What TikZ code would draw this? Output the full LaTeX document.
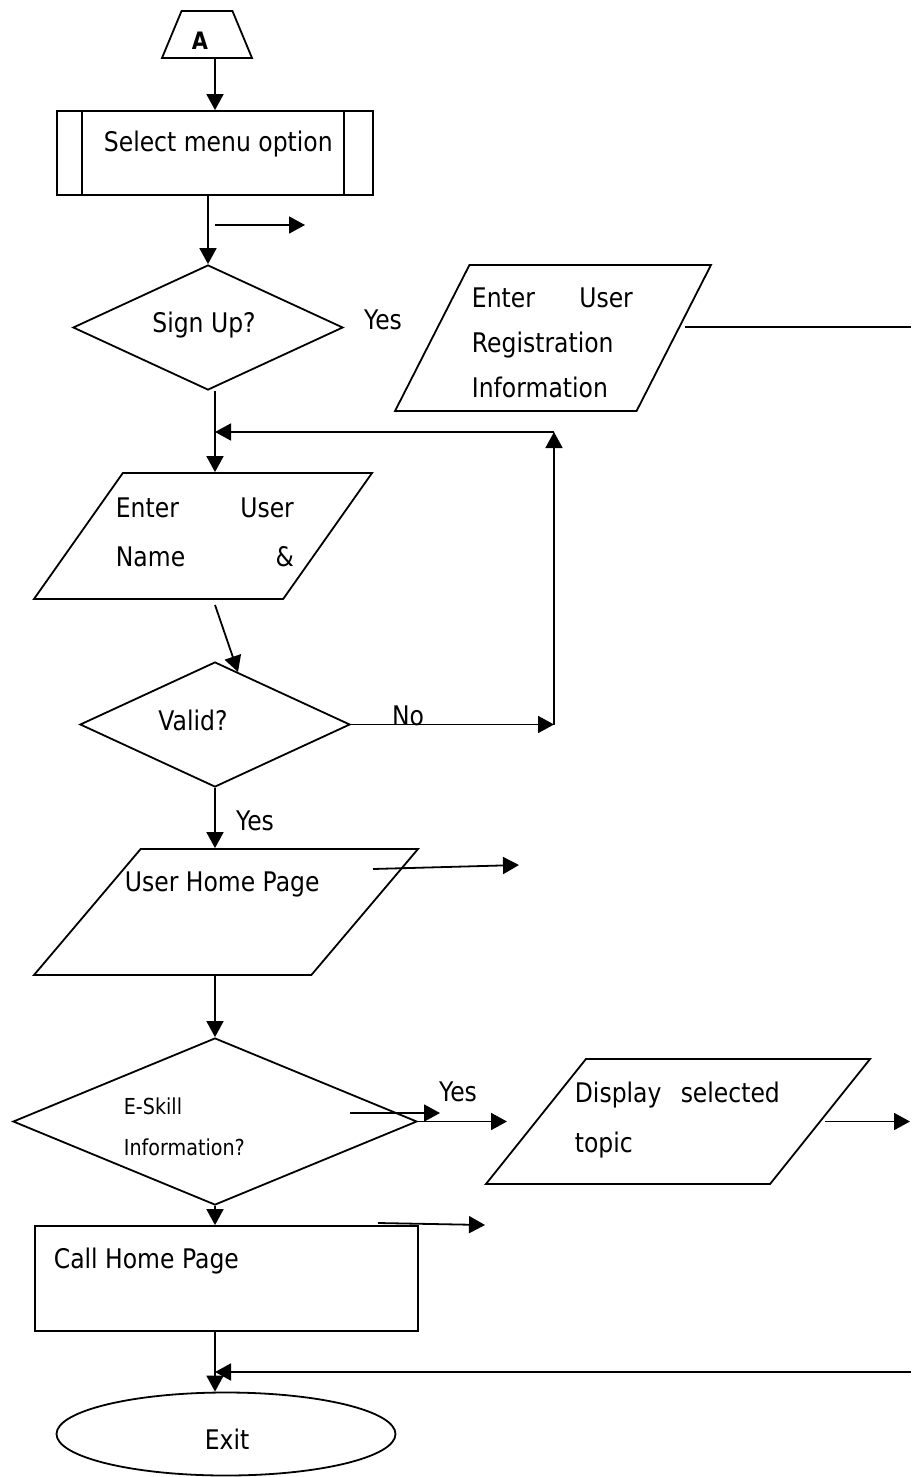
\documentclass[tikz,border=0pt]{standalone}
\usepackage{fontspec}
\setmainfont{DejaVu Sans}[FakeStretch=0.87]
\usetikzlibrary{shapes.geometric,arrows.meta}

\begin{document}
\begin{tikzpicture}[x=1pt, y=-1pt, line width=1.8pt,
    every node/.style={font=\fontsize{27}{45}\selectfont},
    txt/.style={anchor=west, inner sep=0},
    para/.style={anchor=north west, inner sep=0},
    decision/.style={diamond, draw, inner sep=0},
    io/.style={trapezium, draw, inner sep=1pt, trapezium stretches=true},
    proc/.style={rectangle, draw, inner sep=0},
    flow/.style={-{Triangle[length=16pt,width=17pt]}}]
    \useasboundingbox (0,0) rectangle (911,1477);
    \coordinate (col) at (215,0);

    % shapes
    \node[io, trapezium left angle=69, trapezium right angle=69, minimum width=90, minimum height=47] (conn) at (207,34.5) {};
    \node[font=\bfseries\fontsize{24}{28}\selectfont] (conntxt) at (200,41) {A};
    \node[proc, minimum width=316, minimum height=84] (menu) at (215,153) {};
    \draw ([xshift=26]menu.north west) -- ([xshift=26]menu.south west)
          ([xshift=-30]menu.north east) -- ([xshift=-30]menu.south east);
    \node[txt] (menutxt) at (103,144) {Select menu option};
    \node[decision, minimum width=270, minimum height=125] (signup) at (208,327.5) {};
    \node (signuptxt) at (204,325) {Sign Up?};
    \node (yessignup) at (383,320) {Yes};
    \node[io, trapezium left angle=66, trapezium right angle=114, minimum width=316, minimum height=146] (reg) at (553,338) {};
    \node[para, text width=161] (regtxt) at (471,287) {Enter\hfill User\\Registration\\Information};
    \node[io, trapezium left angle=61, trapezium right angle=119, minimum width=338, minimum height=126] (login) at (203,536) {};
    \node[para, text width=178, font=\fontsize{27}{49}\selectfont] (logintxt) at (115,497) {Enter\hfill User\\Name\hfill\&};
    \node[decision, minimum width=270, minimum height=125] (valid) at (215,724.5) {};
    \node (validtxt) at (193,720) {Valid?};
    \node (novalid) at (408,716) {No};
    \node (yesvalid) at (255,821) {Yes};
    \node[io, trapezium left angle=58, trapezium right angle=122, minimum width=384, minimum height=126] (home) at (226,912) {};
    \node[txt] (hometxt) at (124,884) {User Home Page};
    \node[decision, minimum width=404, minimum height=167] (eskill) at (215,1121.5) {};
    \node[para, align=left, font=\fontsize{22}{41}\selectfont] (eskilltxt) at (123,1097) {E-Skill\\Information?};
    \node (yeseskill) at (458,1092) {Yes};
    \node[io, trapezium left angle=61.5, trapezium right angle=118.5, minimum width=384, minimum height=125] (display) at (678,1121.5) {};
    \node[para, text width=205, font=\fontsize{27}{50}\selectfont] (displaytxt) at (574,1081) {Display\hfill selected\\topic};
    \node[proc, minimum width=383, minimum height=105] (callhome) at (226.5,1278.5) {};
    \node[txt] (callhometxt) at (53,1261) {Call Home Page};
    \node[ellipse, draw, inner sep=0, minimum width=339, minimum height=83] (exit) at (226,1434) {};
    \node (exittxt) at (227,1439) {Exit};

    % free ends
    \coordinate (s1a) at (215,225);   \coordinate (s1b) at (305,225);
    \coordinate (regout) at (911,327);
    \coordinate (loopc) at (554,724.5); \coordinate (looptop) at (554,432);
    \coordinate (vin) at (238,672);
    \coordinate (s2a) at (373,869);   \coordinate (s2b) at (519,865);
    \coordinate (s3a) at (350,1113);  \coordinate (s3b) at (440,1113);
    \coordinate (dispin) at (507,1121.5);
    \coordinate (s4a) at (825,1121.5); \coordinate (s4b) at (910,1121.5);
    \coordinate (s5a) at (378,1223);  \coordinate (s5b) at (485,1225);
    \coordinate (ret) at (911,1372);

    % connectors
    \draw[flow] ([xshift=8]conn.south) -- (menu.north);
    \draw[flow] (menu.south -| signup.north) -- (signup.north);
    \draw[flow] (s1a) -- (s1b);
    \draw[flow] (signup.south -| col) -- (login.north -| col);
    \draw ([xshift=10]reg.east |- regout) -- (regout);
    \draw[flow] (valid.east) -- (loopc);
    \draw[flow] (loopc) -- (looptop);
    \draw[flow] (looptop) -- (looptop -| col);
    \draw[flow] ([xshift=12,yshift=-5]login.south) -- (vin);
    \draw[flow] (valid.south) -- (home.north -| valid.south);
    \draw[flow] (s2a) -- (s2b);
    \draw[flow] (home.south -| eskill.north) -- (eskill.north);
    \draw[flow] (s3a) -- (s3b);
    \draw[flow] (eskill.east) -- (dispin);
    \draw[flow] (s4a) -- (s4b);
    \draw[flow] (eskill.south) -- (eskill.south |- callhome.north);
    \draw[flow] (s5a) -- (s5b);
    \draw[flow] (callhome.south -| eskill.south) -- (exit.north -| eskill.south);
    \draw[flow] (ret) -- (ret -| eskill.south);
\end{tikzpicture}
\end{document}
